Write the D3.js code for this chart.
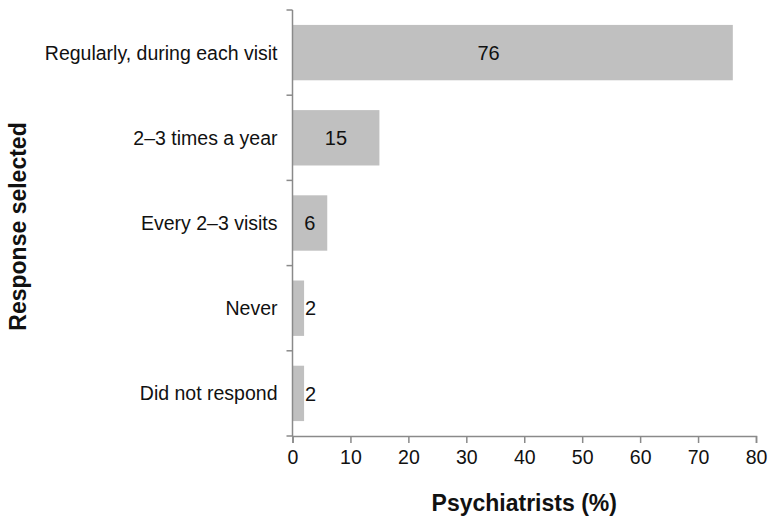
<!DOCTYPE html>
<html>
<head>
<meta charset="utf-8">
<script src="https://cdn.jsdelivr.net/npm/d3@7"></script>
<style>
  body { margin: 0; background: #fff; }
  text { font-family: "Liberation Sans", Arial, sans-serif; }
</style>
</head>
<body>
<div id="chart"></div>
<script>
var categories = ["Regularly, during each visit", "2\u20133 times a year", "Every 2\u20133 visits", "Never", "Did not respond"];
var values = [76, 15, 6, 2, 2];
var xTicks = [0, 10, 20, 30, 40, 50, 60, 70, 80];

var width = 776, height = 526;
var plotLeft = 292.5, plotRight = 756, plotTop = 10, plotBottom = 436;
var axisColor = "#8a8a8a";
var maxLabelOffset = 196; // long bar labels sit left of centre, as in the original

var svg = d3.select("#chart").append("svg")
  .attr("width", width)
  .attr("height", height);

var x = d3.scaleLinear().domain([0, 80]).range([plotLeft, plotRight]);
var y = d3.scaleBand().domain(categories).range([plotTop, plotBottom]).paddingInner(0.35).paddingOuter(0.175);
var yEdges = d3.scaleBand().domain(categories).range([plotTop, plotBottom]);

// bars
svg.selectAll("rect.bar")
  .data(values)
  .enter().append("rect")
  .attr("class", "bar")
  .attr("x", x(0))
  .attr("y", function (d, i) { return y(categories[i]); })
  .attr("width", function (d) { return x(d) - x(0); })
  .attr("height", y.bandwidth())
  .attr("fill", "#c0c0c0");

// value labels
svg.selectAll("text.val")
  .data(values)
  .enter().append("text")
  .attr("class", "val")
  .attr("x", function (d) {
    var w = x(d) - x(0);
    return w < 20 ? x(d) + 1 : x(0) + Math.min(w / 2, maxLabelOffset);
  })
  .attr("y", function (d, i) { return y(categories[i]) + y.bandwidth() / 2; })
  .attr("dy", "0.36em")
  .attr("text-anchor", function (d) { return (x(d) - x(0)) < 20 ? "start" : "middle"; })
  .attr("font-size", 20)
  .attr("fill", "#111")
  .text(function (d) { return d; });

// y axis: line with ticks at band boundaries
var yAxis = svg.append("g");
yAxis.append("line")
  .attr("x1", plotLeft).attr("x2", plotLeft)
  .attr("y1", plotTop).attr("y2", plotBottom)
  .attr("stroke", axisColor).attr("stroke-width", 1.5);
var edges = categories.map(function (c) { return yEdges(c); }).concat([plotBottom]);
yAxis.selectAll("line.tick")
  .data(edges)
  .enter().append("line")
  .attr("class", "tick")
  .attr("x1", plotLeft - 6).attr("x2", plotLeft)
  .attr("y1", function (d) { return d; }).attr("y2", function (d) { return d; })
  .attr("stroke", axisColor).attr("stroke-width", 1.5);
yAxis.selectAll("text")
  .data(categories)
  .enter().append("text")
  .attr("x", plotLeft - 15)
  .attr("y", function (d) { return y(d) + y.bandwidth() / 2; })
  .attr("dy", "0.36em")
  .attr("text-anchor", "end")
  .attr("font-size", 19.5)
  .attr("fill", "#111")
  .text(function (d) { return d; });

// x axis
var xAxis = svg.append("g")
  .attr("transform", "translate(0," + plotBottom + ")")
  .call(d3.axisBottom(x).tickValues(xTicks).tickSizeOuter(0).tickSize(7).tickPadding(7));
xAxis.select(".domain").attr("stroke", axisColor).attr("stroke-width", 1.5);
xAxis.selectAll(".tick line").attr("stroke", axisColor).attr("stroke-width", 1.5);
xAxis.selectAll(".tick text")
  .attr("font-size", 19.5)
  .attr("font-family", "Liberation Sans, Arial, sans-serif")
  .attr("fill", "#111");

// axis titles
svg.append("text")
  .attr("x", (plotLeft + plotRight) / 2)
  .attr("y", 511)
  .attr("text-anchor", "middle")
  .attr("font-size", 23)
  .attr("font-weight", "bold")
  .attr("fill", "#111")
  .text("Psychiatrists (%)");

svg.append("text")
  .attr("transform", "translate(26,226.5) rotate(-90)")
  .attr("text-anchor", "middle")
  .attr("font-size", 23)
  .attr("font-weight", "bold")
  .attr("fill", "#111")
  .text("Response selected");
</script>
</body>
</html>
